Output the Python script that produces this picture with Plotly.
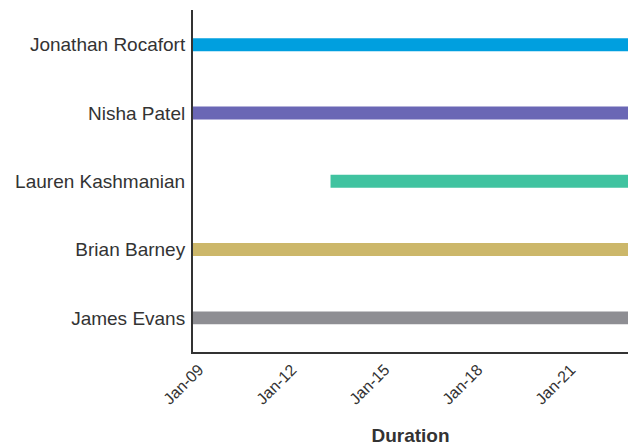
import plotly.graph_objects as go
import pandas as pd

names = ["Jonathan Rocafort", "Nisha Patel", "Lauren Kashmanian", "Brian Barney", "James Evans"]
starts = ["2009-01-01", "2009-01-01", "2013-06-10", "2009-01-01", "2009-01-01"]
ends = ["2023-01-15", "2023-01-15", "2023-01-15", "2023-01-15", "2023-01-15"]
colors = ["#009FDF", "#6A67B5", "#40C3A0", "#CCB76A", "#8E8E93"]
tick_vals = ["2009-01-01", "2012-01-01", "2015-01-01", "2018-01-01", "2021-01-01"]
tick_text = ["Jan-09", "Jan-12", "Jan-15", "Jan-18", "Jan-21"]

durations = [(pd.Timestamp(e) - pd.Timestamp(s)).total_seconds() * 1000 for s, e in zip(starts, ends)]

fig = go.Figure(go.Bar(
    y=names, x=durations, base=starts, orientation="h",
    marker=dict(color=colors, line=dict(width=0)),
    width=0.19, showlegend=False,
))

# page body has 8px default margin, so the figure is 630x438 placed at (8,8)
fig.update_layout(
    width=630, height=438,
    margin=dict(l=185, r=10, t=2, b=94),
    plot_bgcolor="white", paper_bgcolor="white",
    font=dict(family="Liberation Sans, Arial, sans-serif", size=19, color="#333333"),
)
fig.update_xaxes(
    type="date", range=[starts[0], ends[0]],
    tickvals=tick_vals, ticktext=tick_text, tickangle=-45,
    tickfont=dict(size=16, color="#333333"),
    ticklabelshift=6,
    showgrid=False, zeroline=False,
    showline=True, linecolor="#333333", linewidth=2,
    title=dict(text="<b>Duration</b>", font=dict(size=19, color="#333333"), standoff=22),
)
fig.update_yaxes(
    categoryorder="array", categoryarray=names[::-1],
    showgrid=False, zeroline=False,
    showline=True, linecolor="#333333", linewidth=2,
    tickfont=dict(size=19, color="#333333"),
    ticks="", ticklabelstandoff=2,
    range=[-0.5, 4.51],
)

fig.write_html("out.html")
